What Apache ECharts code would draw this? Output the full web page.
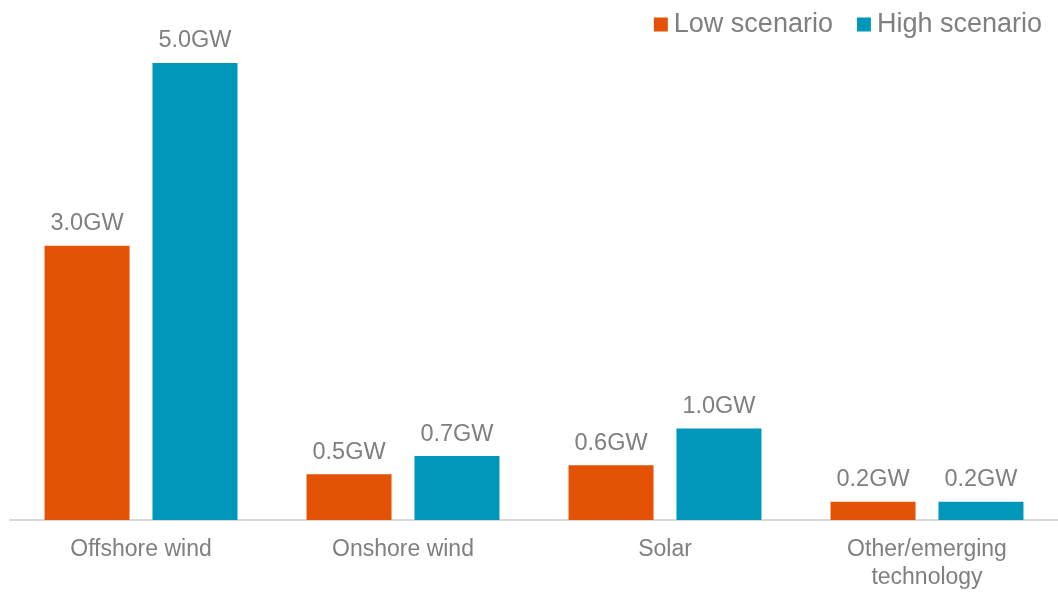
<!DOCTYPE html>
<html>
<head>
<meta charset="utf-8">
<script src="https://cdn.jsdelivr.net/npm/echarts@6/dist/echarts.min.js"></script>
<style>
  html, body { margin: 0; padding: 0; background: #ffffff; }
  #chart { width: 1058px; height: 592px; }
</style>
</head>
<body>
<div id="chart"></div>
<script>
// Added capacity by technology, in GW
const categories = ['Offshore wind', 'Onshore wind', 'Solar', 'Other/emerging\ntechnology'];
const lowScenario = [3.0, 0.5, 0.6, 0.2];
const highScenario = [5.0, 0.7, 1.0, 0.2];
const seriesNames = ['Low scenario', 'High scenario'];

const FONT = '"Liberation Sans", Arial, sans-serif';
const TEXT = '#7f7f7f';

const chart = echarts.init(document.getElementById('chart'));

const valueLabel = {
  show: true,
  position: 'top',
  distance: 10,
  color: TEXT,
  fontFamily: FONT,
  fontSize: 23.5,
  formatter: p => p.value.toFixed(1) + 'GW'
};

chart.setOption({
  animation: false,
  backgroundColor: '#ffffff',
  legend: {
    right: 11,
    top: 6,
    itemWidth: 14,
    itemHeight: 14,
    itemGap: 24,
    icon: 'rect',
    textStyle: { color: TEXT, fontFamily: FONT, fontSize: 27, padding: [0, 0, 0, 1] },
    data: seriesNames
  },
  grid: { left: 10, right: 0, top: 63, bottom: 63 },
  xAxis: {
    type: 'category',
    data: categories,
    axisLine: { lineStyle: { color: '#d9d9d9', width: 2 } },
    axisTick: { show: false },
    axisLabel: {
      color: TEXT,
      fontFamily: FONT,
      fontSize: 23,
      margin: 16,
      lineHeight: 28,
      interval: 0
    }
  },
  yAxis: {
    type: 'value',
    min: 0,
    max: 5,
    show: false,
    splitLine: { show: false }
  },
  series: [
    {
      name: seriesNames[0],
      type: 'bar',
      data: lowScenario,
      barWidth: 85,
      barGap: '27%',
      itemStyle: { color: '#e35205' },
      label: valueLabel
    },
    {
      name: seriesNames[1],
      type: 'bar',
      data: highScenario,
      barWidth: 85,
      barGap: '27%',
      itemStyle: { color: '#0097ba' },
      label: valueLabel
    }
  ]
});
</script>
</body>
</html>
